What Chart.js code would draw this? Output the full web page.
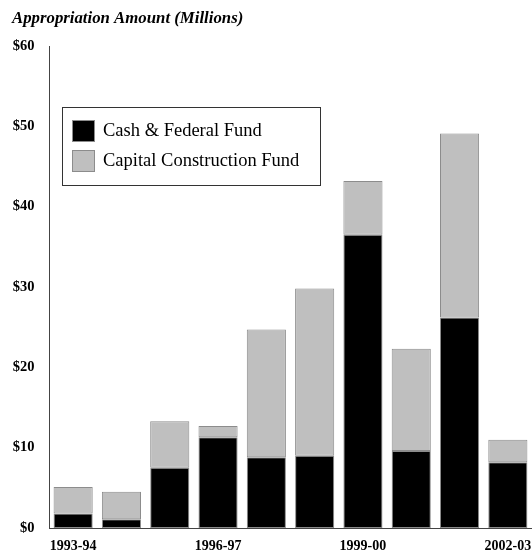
<!DOCTYPE html>
<html>
<head>
<meta charset="utf-8">
<script src="https://cdn.jsdelivr.net/npm/chart.js@4/dist/chart.umd.min.js"></script>
<style>
html,body{margin:0;padding:0;background:#fff;}
#wrap{position:relative;width:532px;height:555px;}
</style>
</head>
<body>
<div id="wrap"><canvas id="c" width="532" height="555"></canvas></div>
<script>
const years = ["1993-94","1994-95","1995-96","1996-97","1997-98","1998-99","1999-00","2000-01","2001-02","2002-03"];
const cashFederal = [1.8, 1.1, 7.5, 11.3, 8.8, 9.0, 36.5, 9.6, 26.2, 8.2];
const capitalConstruction = [3.3, 3.4, 5.8, 1.4, 15.9, 20.8, 6.7, 12.7, 22.9, 2.8];
const seriesNames = ["Cash & Federal Fund", "Capital Construction Fund"];
const yTicks = [0, 10, 20, 30, 40, 50, 60];
const titleText = "Appropriation Amount (Millions)";

const SERIF = '"Liberation Serif", "Times New Roman", serif';

const overlay = {
  id: 'overlay',
  afterDraw(chart) {
    const ctx = chart.ctx;
    ctx.save();
    ctx.fillStyle = '#000';
    ctx.font = 'italic bold 16.8px ' + SERIF;
    ctx.textBaseline = 'alphabetic';
    ctx.textAlign = 'left';
    ctx.fillText(titleText, 12, 23);
    const bx = 62.5, by = 107.5, bw = 258, bh = 78;
    ctx.fillStyle = '#fff';
    ctx.fillRect(bx, by, bw, bh);
    ctx.strokeStyle = '#333';
    ctx.lineWidth = 1;
    ctx.strokeRect(bx, by, bw, bh);
    const ds = chart.data.datasets;
    const rows = [120, 150];
    ds.forEach((d, i) => {
      ctx.fillStyle = d.backgroundColor;
      ctx.fillRect(72, rows[i], 23, 22);
      ctx.strokeStyle = '#8c8c8c';
      ctx.strokeRect(72.5, rows[i] + 0.5, 22, 21);
      ctx.fillStyle = '#000';
      ctx.font = '18.5px ' + SERIF;
      ctx.textBaseline = 'middle';
      ctx.fillText(d.label, 103, rows[i] + 11);
    });
    ctx.restore();
  }
};

new Chart(document.getElementById('c'), {
  type: 'bar',
  data: {
    labels: years,
    datasets: [
      { label: seriesNames[0], data: cashFederal, backgroundColor: '#000000', borderColor: '#8c8c8c', borderWidth: 1, borderSkipped: false },
      { label: seriesNames[1], data: capitalConstruction, backgroundColor: '#bfbfbf', borderColor: '#8c8c8c', borderWidth: 1, borderSkipped: false }
    ]
  },
  options: {
    responsive: false,
    animation: false,
    devicePixelRatio: 1,
    layout: { padding: { top: 46, right: 0, bottom: 0, left: 0 } },
    categoryPercentage: 1.0,
    barPercentage: 0.81,
    plugins: { legend: { display: false }, title: { display: false }, tooltip: { enabled: false } },
    scales: {
      x: {
        stacked: true,
        grid: { display: false, drawTicks: false },
        border: { display: true, color: '#444', width: 1 },
        ticks: {
          autoSkip: false, maxRotation: 0, minRotation: 0, padding: 10,
          color: '#000', font: { family: SERIF, size: 14, weight: 'bold' },
          callback: function(v, i) { return i % 3 === 0 ? years[i] : ''; }
        },
        afterFit(s) { s.height = 27; s.paddingLeft = 0; s.paddingRight = 0; }
      },
      y: {
        stacked: true, min: 0, max: 60,
        grid: { display: false, drawTicks: false },
        border: { display: true, color: '#444', width: 1 },
        afterBuildTicks(s) { s.ticks = yTicks.map(v => ({ value: v })); },
        ticks: {
          padding: 14.5, color: '#000', font: { family: SERIF, size: 14.5, weight: 'bold' },
          callback: v => '$' + v
        },
        afterFit(s) { s.width = 49; }
      }
    }
  },
  plugins: [overlay]
});
</script>
</body>
</html>
